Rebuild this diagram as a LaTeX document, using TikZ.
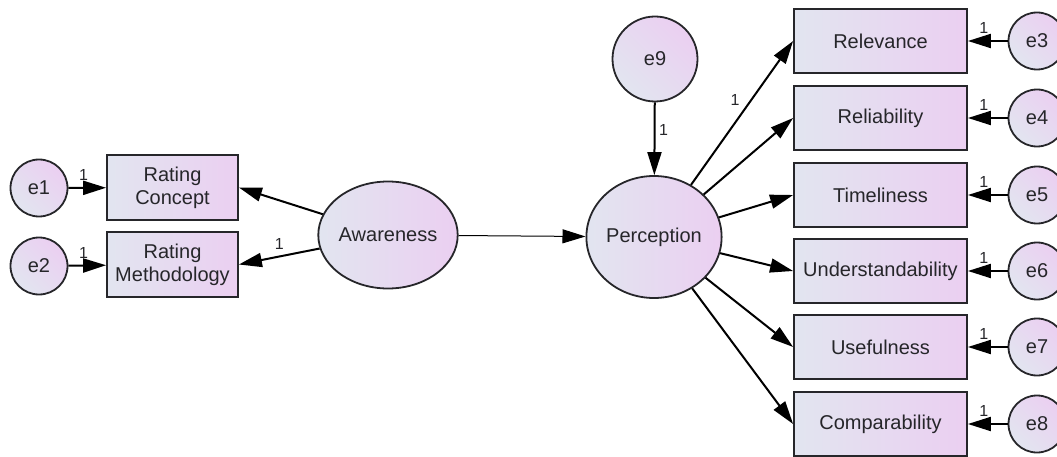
\documentclass[tikz,border=0pt]{standalone}
\usepackage{fontspec}
\setmainfont{Liberation Sans}
\usetikzlibrary{shapes.geometric,arrows.meta}
\definecolor{fillL}{RGB}{226,229,240}
\definecolor{fillR}{RGB}{235,207,241}
\definecolor{ink}{RGB}{38,38,42}

\begin{document}
\begin{tikzpicture}[x=1pt,y=-1pt,
  every node/.style={font=\fontsize{20}{23}\selectfont, text=ink},
  obs/.style={draw=ink, line width=1.8pt, left color=fillL, right color=fillR,
    minimum width=173pt, minimum height=64pt, inner sep=0pt, align=center},
  obsL/.style={obs, minimum width=131pt, minimum height=65pt},
  lat/.style={ellipse, draw=ink, line width=1.8pt, left color=fillL, right color=fillR, inner sep=0pt},
  err/.style={circle, draw=ink, line width=1.8pt, left color=fillL, right color=fillR,
    shading angle=135, minimum size=57pt, inner sep=0pt},
  link/.style={draw=black, line width=2pt, -{Triangle[length=23pt,width=14pt]}},
  thin link/.style={link, line width=1pt},
  lbl/.style={font=\fontsize{16}{17}\selectfont, text=ink, inner sep=1.5pt}
]
\path[use as bounding box, clip] (0,0) rectangle (1057,457);

% left block: two indicators of Awareness
\node[err] (e1) at (39,188) {e1};
\node[err] (e2) at (39,266) {e2};
\node[obsL] (rc) at (172.5,187.5) {Rating\\Concept};
\node[obsL] (rm) at (172.5,264.5) {Rating\\Methodology};
\node[lat, minimum width=134pt, minimum height=107pt] (aw) at (388,235) {Awareness};

% central latent and its disturbance
\node[lat, minimum width=132pt, minimum height=122pt] (pe) at (654,237) {Perception};
\node[err, minimum size=85pt] (e9) at (655,59) {e9};

% right block: indicators of Perception with error terms
\foreach \nm/\txt/\yy/\er in {r1/Relevance/41/e3, r2/Reliability/118/e4, r3/Timeliness/195/e5,
    r4/Understandability/271/e6, r5/Usefulness/347/e7, r6/Comparability/424/e8}{
  \node[obs] (\nm) at (880.5,\yy) {\txt};
  \node[err] (\er) at (1037,\yy) {\er};
}

% paths
\draw[link] (e1) -- node[lbl, pos=0.4, above=5pt] {1} (rc);
\draw[link] (e2) -- node[lbl, pos=0.4, above=5pt] {1} (rm);
\draw[link] (aw) -- (rc.east);
\draw[link] (aw) -- node[lbl, pos=0.5, above=5pt] {1} (rm.east);
\draw[thin link] (aw) -- (pe);
\draw[link] (e9) -- node[lbl, pos=0.38, right=2pt] {1} (pe);
\draw[link] (pe) -- node[lbl, pos=0.52, above left=2pt] {1} (r1.west);
\foreach \nm in {r2,r3,r4,r5,r6}{
  \draw[link] (pe) -- (\nm.west);
}
\foreach \er/\nm in {e3/r1,e4/r2,e5/r3,e6/r4,e7/r5,e8/r6}{
  \draw[link] (\er) -- node[lbl, pos=0.6, above=5pt] {1} (\nm);
}
\end{tikzpicture}
\end{document}
